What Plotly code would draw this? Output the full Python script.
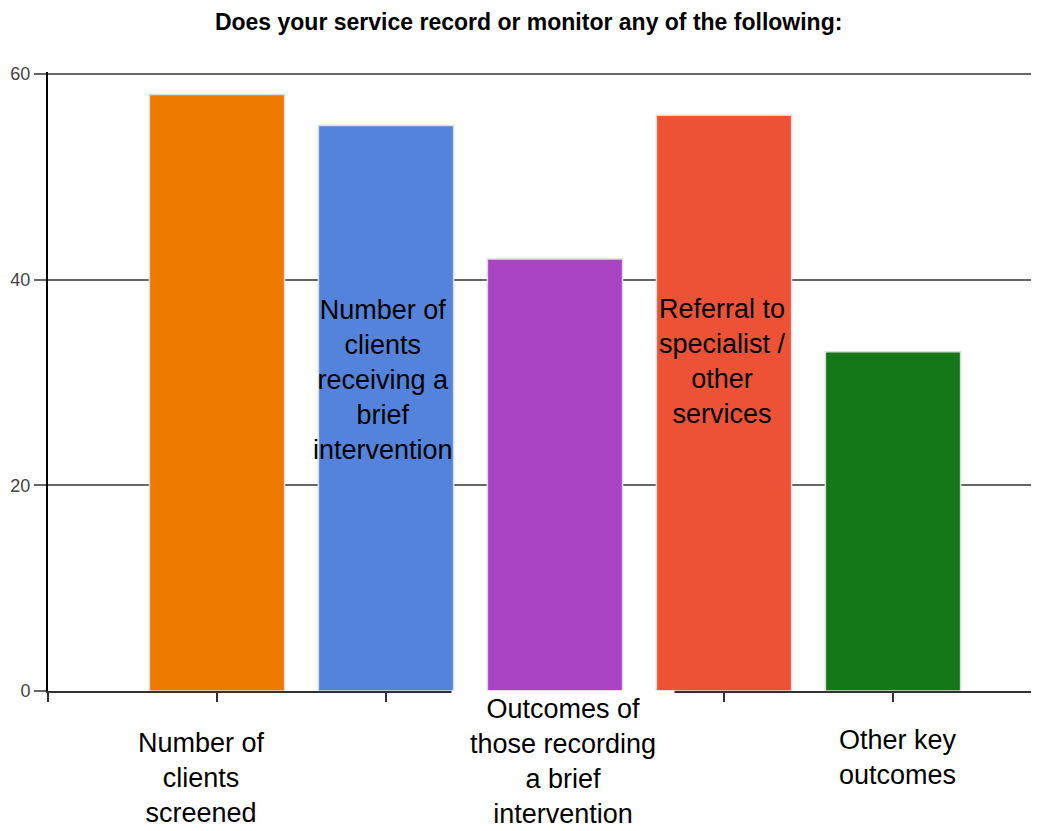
import plotly.graph_objects as go

# ---- data ----
categories = [
    "Number of<br>clients<br>screened",
    "Number of<br>clients<br>receiving a<br>brief<br>intervention",
    "Outcomes of<br>those recording<br>a brief<br>intervention",
    "Referral to<br>specialist /<br>other<br>services",
    "Other key<br>outcomes",
]
values = [58, 55, 42, 56, 33]
y_ticks = [0, 20, 40, 60]
title_text = "Does your service record or monitor any of the following:"

# ---- styles ----
bar_colors = ["#EC7B00", "#5483DB", "#AA44C4", "#EE5236", "#147819"]
FONT = "Liberation Sans, Arial, sans-serif"

x_idx = list(range(len(categories)))

fig = go.Figure()
fig.add_trace(go.Bar(
    x=x_idx, y=values, width=0.8,
    marker=dict(color=bar_colors, line=dict(color="#dcdcdc", width=1.5)),
    showlegend=False, hoverinfo="skip",
))

# label placement: xshift px; yref; y of label centre; optional white box
label_pos = [
    dict(xshift=-16, yref="paper", y=-0.1405, bg=None),
    dict(xshift=-3, yref="y", y=30.25, bg=None),
    dict(xshift=8, yref="paper", y=0.0016, bg="white"),
    dict(xshift=-1, yref="y", y=32.0, bg=None),
    dict(xshift=5, yref="paper", y=-0.1074, bg=None),
]
annotations = []
for i, (cat, lp) in enumerate(zip(categories, label_pos)):
    a = dict(x=i, y=lp["y"], xref="x", yref=lp["yref"], text=cat, showarrow=False,
             xshift=lp["xshift"], xanchor="center", yanchor="middle",
             font=dict(family=FONT, size=27, color="#000"), align="center")
    if lp["bg"]:
        a.update(bgcolor=lp["bg"], width=222, height=141, borderpad=0,
                 yanchor="top", valign="middle")
    annotations.append(a)

fig.update_layout(
    width=1031, height=823,
    margin=dict(l=40, r=0, t=64, b=140, autoexpand=False),
    paper_bgcolor="white", plot_bgcolor="white",
    title=dict(text=title_text, x=0.505, xanchor="center", y=1 - 14 / 823,
               yanchor="middle", yref="container",
               font=dict(family=FONT, size=23, color="#000", weight="bold")),
    annotations=annotations,
    bargap=0.2,
)
fig.update_xaxes(
    range=[-1, 4.864], tickvals=[-1] + x_idx, ticktext=[""] * (len(x_idx) + 1),
    ticks="outside", ticklen=9, tickwidth=2, tickcolor="#333",
    showline=True, linecolor="#333", linewidth=2,
    showgrid=False, zeroline=False, fixedrange=True,
)
fig.update_yaxes(
    range=[0, 60.194], tickvals=y_ticks,
    ticks="outside", ticklen=12, tickwidth=2, tickcolor="#666",
    showline=True, linecolor="#000", linewidth=2,
    showgrid=True, gridcolor="#666", gridwidth=2, zeroline=False,
    tickfont=dict(family=FONT, size=18, color="#444"), fixedrange=True,
)

fig.write_html("out.html")
